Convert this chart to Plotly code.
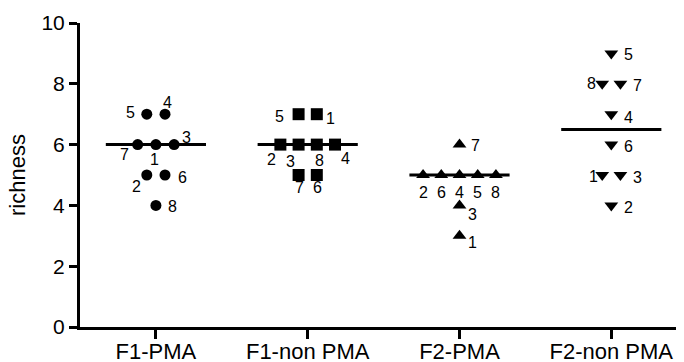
import numpy as np
import plotly.graph_objects as go

# ---- data ----
groups = ["F1-PMA", "F1-non PMA", "F2-PMA", "F2-non PMA"]

f1_pma_ids = [5, 4, 7, 1, 3, 2, 6, 8]
f1_pma_vals = [7, 7, 6, 6, 6, 5, 5, 4]

f1_non_ids = [5, 1, 2, 3, 8, 4, 7, 6]
f1_non_vals = [7, 7, 6, 6, 6, 6, 5, 5]

f2_pma_ids = [7, 2, 6, 4, 5, 8, 3, 1]
f2_pma_vals = [6, 5, 5, 5, 5, 5, 4, 3]

f2_non_ids = [5, 8, 7, 4, 6, 1, 3, 2]
f2_non_vals = [9, 8, 8, 7, 6, 5, 5, 4]

y_ticks = [0, 2, 4, 6, 8, 10]
y_title = "richness"

# ---- styles (label offsets in px, marker symbols) ----
label_offsets = [
    [(-16, -2), (2, -12), (-13, 10), (-1, 15), (12, -7), (-10, 11), (17, 2), (17, 1)],
    [(-19, 2), (14, 4), (-9, 15), (-8, 17), (3, 16), (10, 14), (1, 12), (1, 12)],
    [(16, 1), (0, 17), (0, 17), (0, 17), (0, 17), (0, 17), (13, 9), (13, 7)],
    [(17, 1), (-11, 0), (17, 2), (17, 3), (17, 2), (-9, 1), (17, 2), (17, 2)],
]
symbols = ["circle", "square", "triangle-up", "triangle-down"]
sizes = [11, 12, 12, 12]
STEP = 0.12       # horizontal spacing of tied points (x units)
HALF = 0.33       # half width of median line

all_ids = [f1_pma_ids, f1_non_ids, f2_pma_ids, f2_non_ids]
all_vals = [f1_pma_vals, f1_non_vals, f2_pma_vals, f2_non_vals]

FONT = "Arial, Liberation Sans, Helvetica, sans-serif"

fig = go.Figure()
annotations = []

for gi, (ids, vals) in enumerate(zip(all_ids, all_vals)):
    vals = list(vals)
    xs = []
    for k, v in enumerate(vals):
        row = [j for j, w in enumerate(vals) if w == v]
        n = len(row)
        pos = row.index(k)
        xs.append(gi + (pos - (n - 1) / 2) * STEP)
    fig.add_trace(go.Scatter(
        x=xs, y=vals, mode="markers",
        marker=dict(symbol=symbols[gi], size=sizes[gi], color="black",
                    line=dict(width=0)),
        showlegend=False, hoverinfo="skip"))
    med = float(np.median(vals))
    fig.add_trace(go.Scatter(
        x=[gi - HALF, gi + HALF], y=[med, med], mode="lines",
        line=dict(color="black", width=3), showlegend=False, hoverinfo="skip"))
    for k, (sid, v) in enumerate(zip(ids, vals)):
        dx, dy = label_offsets[gi][k]
        annotations.append(dict(
            x=xs[k], y=v, xref="x", yref="y", text=str(sid), showarrow=False,
            xshift=dx, yshift=-dy, xanchor="center", yanchor="middle",
            font=dict(family=FONT, size=16, color="black")))

# page body has an 8px margin, so the figure is sized/offset to compensate
W, H = 676, 354
L, R, T, B = 72, 0, 15, 35
PW = W - L - R
x_lo = -0.5
x_hi = x_lo + PW / 151.8

# y-axis title as rotated text
annotations.append(dict(
    x=(9 - L) / PW, y=0.5, xref="paper", yref="paper", text=y_title,
    showarrow=False, textangle=-90, xanchor="center", yanchor="middle",
    font=dict(family=FONT, size=22, color="black")))

fig.update_layout(
    width=W, height=H,
    margin=dict(l=L, r=R, t=T, b=B, pad=0, autoexpand=False),
    paper_bgcolor="white", plot_bgcolor="white",
    annotations=annotations,
    font=dict(family=FONT, color="black"),
    xaxis=dict(
        range=[x_lo, x_hi], tickmode="array", tickvals=list(range(len(groups))),
        ticktext=groups, showgrid=False, zeroline=False, automargin=False,
        showline=True, linecolor="black", linewidth=3,
        ticks="outside", ticklen=9, tickwidth=3, tickcolor="black",
        ticklabelstandoff=-6,
        tickfont=dict(family=FONT, size=22, color="black")),
    yaxis=dict(
        range=[0, 10], tickmode="array", tickvals=y_ticks,
        ticktext=[str(t) for t in y_ticks], showgrid=False, zeroline=False,
        automargin=False,
        showline=True, linecolor="black", linewidth=3,
        ticks="outside", ticklen=8, tickwidth=3, tickcolor="black",
        tickfont=dict(family=FONT, size=21, color="black")),
)

fig.write_html("out.html")
